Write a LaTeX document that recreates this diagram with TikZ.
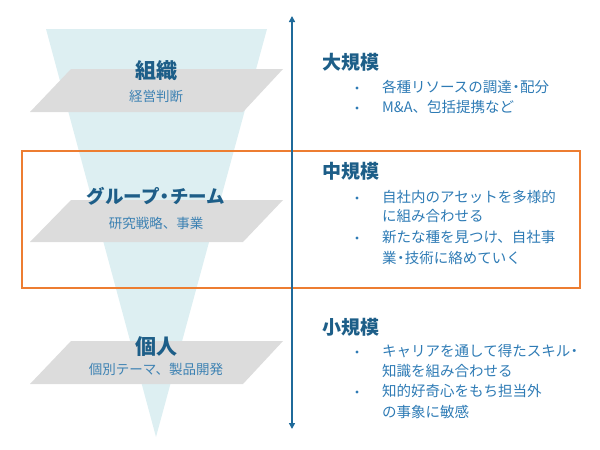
\documentclass[tikz,border=0pt]{standalone}
\usepackage{fontspec}
\newfontfamily\jp{Noto Sans CJK JP}
\usetikzlibrary{arrows.meta}
\definecolor{funnel}{HTML}{DDEFF2}
\definecolor{plane}{HTML}{DCDCDC}
\definecolor{head}{HTML}{1D5E88}
\definecolor{sub}{HTML}{3D82B3}
\definecolor{body}{HTML}{2E7BB5}
\definecolor{axis}{HTML}{1F6A9A}
\definecolor{frame}{HTML}{ED7D31}
\newcommand{\nd}{\kern-0.22em・\kern-0.22em}
\tikzset{
  planebox/.style={fill=plane, draw=none},
  title/.style={font=\jp\bfseries\fontsize{21}{24}\selectfont, text=head, inner sep=0pt, anchor=center},
  subtitle/.style={font=\jp\fontsize{13.5}{16}\selectfont, text=sub, inner sep=0pt, anchor=center},
  heading/.style={font=\jp\bfseries\fontsize{19}{22}\selectfont, text=head, inner sep=0pt, anchor=west},
  item/.style={font=\jp\fontsize{14.5}{17}\selectfont, text=body, inner sep=0pt, anchor=west},
  dot/.style={circle, fill=body, inner sep=0pt, minimum size=3.4pt},
}
\begin{document}
\begin{tikzpicture}[x=1pt,y=-1pt]
\useasboundingbox (0,0) rectangle (600,450);
% funnel
\fill[funnel] (46,29) -- (267,29) -- (156,437) -- cycle;
% planes
\fill[planebox] (71,69) -- (283,69) -- (243,112) -- (30,112) -- cycle;
\fill[planebox] (71,200) -- (283,200) -- (243,242) -- (30,242) -- cycle;
\fill[planebox] (71,341) -- (283,341) -- (243,384) -- (30,384) -- cycle;
% left labels
\node[title] (org) at (156,71) {組織};
\node[subtitle] (orgs) at (156,96) {経営判断};
\node[title, font=\jp\bfseries\fontsize{18.5}{21}\selectfont] (grp) at (156,196) {グループ\nd チーム};
\node[subtitle] (grps) at (156,223) {研究戦略、事業};
\node[title] (ind) at (156,347) {個人};
\node[subtitle] (inds) at (156,369) {個別テーマ、製品開発};
% frame
\node[draw=frame, line width=2pt, inner sep=0pt, minimum width=558pt, minimum height=137pt, anchor=north west] (box) at (21,150) {};
% axis
\coordinate (atop) at (292,16);
\coordinate (abot) at (292,429);
\draw[axis, line width=1.8pt, {Triangle[length=6pt,width=6pt]}-{Triangle[length=6pt,width=6pt]}] (abot) -- (atop);
% right texts
\node[heading] (h1) at (322,62) {大規模};
\node[dot] (b11) at (357,88) {};
\node[item] (t11) at (382,87) {各種リソースの調達\nd 配分};
\node[dot] (b12) at (357,108) {};
\node[item] (t12) at (382,107) {M\&A、包括提携など};
\node[heading] (h2) at (322,171) {中規模};
\node[dot] (b21) at (357,198) {};
\node[item] (t21) at (382,197) {自社内のアセットを多様的};
\node[item] (t21b) at (382,216) {に組み合わせる};
\node[dot] (b22) at (357,238) {};
\node[item] (t22) at (382,237) {新たな種を見つけ、自社事};
\node[item] (t22b) at (382,258) {業\nd 技術に絡めていく};
\node[heading] (h3) at (322,327) {小規模};
\node[dot] (b31) at (357,352) {};
\node[item] (t31) at (382,351) {キャリアを通して得たスキル\kern-0.22em・};
\node[item] (t31b) at (382,371) {知識を組み合わせる};
\node[dot] (b32) at (357,392) {};
\node[item] (t32) at (382,391) {知的好奇心をもち担当外};
\node[item] (t32b) at (382,412) {の事象に敏感};
\end{tikzpicture}
\end{document}
